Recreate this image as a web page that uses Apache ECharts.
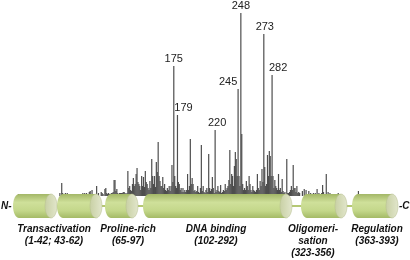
<!DOCTYPE html>
<html>
<head>
<meta charset="utf-8">
<script src="https://cdn.jsdelivr.net/npm/echarts@6/dist/echarts.min.js"></script>
<style>
  html, body { margin: 0; padding: 0; background: #fff; }
  #main { width: 410px; height: 260px; }
</style>
</head>
<body>
<div id="main"></div>
<script>
// codon positions that carry mutations, and the bar height
var residues = [
  6, 36, 51, 53, 54, 55, 57, 59, 61, 63, 65, 67, 72, 76, 78, 80, 82, 83, 84, 86, 88, 91, 93, 96, 97, 98, 100, 101,
  102, 103, 104, 105, 106, 107, 108, 109, 110, 111, 112, 113, 114, 115, 116, 117, 118, 119, 120, 121, 122, 123, 124,
  125, 126, 127, 128, 129, 130, 131, 132, 133, 134, 135, 136, 137, 138, 139, 140, 141, 142, 143, 144, 145, 146, 147,
  148, 149, 150, 151, 152, 153, 154, 155, 156, 157, 158, 159, 160, 161, 162, 163, 164, 165, 166, 167, 168, 169, 170,
  171, 172, 173, 174, 175, 176, 177, 178, 179, 180, 181, 182, 183, 184, 185, 186, 187, 188, 189, 190, 191, 192, 193,
  194, 195, 196, 197, 198, 199, 200, 201, 202, 203, 204, 205, 206, 207, 208, 209, 210, 211, 212, 213, 214, 215, 216,
  217, 218, 219, 220, 221, 222, 223, 224, 225, 226, 227, 228, 229, 230, 231, 232, 233, 234, 235, 236, 237, 238, 239,
  240, 241, 242, 243, 244, 245, 246, 247, 248, 249, 250, 251, 252, 253, 254, 255, 256, 257, 258, 259, 260, 261, 262,
  263, 264, 265, 266, 267, 268, 269, 270, 271, 272, 273, 274, 275, 276, 277, 278, 279, 280, 281, 282, 283, 284, 285,
  286, 287, 288, 289, 290, 291, 292, 293, 294, 295, 296, 297, 298, 299, 300,
  301, 302, 303, 304, 305, 306, 307, 308, 309, 310, 311, 312, 315, 317, 319, 322, 324, 327, 329, 331, 333, 336, 337,
  338, 341, 343, 345, 354, 376
];
var counts = [
  2, 2, 3, 13, 3, 2, 3, 3, 2, 2, 2, 2, 2, 3, 3, 3, 2, 4, 5, 6, 2, 10, 3, 4, 3, 2, 7, 8,
  3, 2, 3, 2, 2, 3, 3, 4, 16, 16, 5, 7, 3, 2, 3, 3, 3, 3, 4, 4, 3, 2, 3,
  25, 8, 10, 6, 5, 12, 18, 10, 12, 22, 28, 14, 12, 10, 6, 20, 10, 19, 9, 25, 14, 12, 8,
  6, 15, 8, 37, 20, 12, 20, 9, 34, 24, 54, 20, 15, 10, 10, 19, 8, 12, 6, 5, 8, 6, 10,
  5, 10, 31, 14, 130, 20, 10, 8, 81, 14, 12, 6, 8, 4, 8, 4, 6, 4, 6, 22, 6, 10, 57,
  12, 18, 12, 5, 6, 4, 5, 10, 4, 3, 8, 51, 5, 10, 4, 3, 6, 8, 4, 42, 8, 5, 7,
  19, 8, 3, 66, 4, 6, 10, 5, 4, 11, 3, 4, 6, 5, 12, 6, 8, 10, 16, 46, 12, 22, 20,
  10, 30, 44, 37, 20, 107, 20, 10, 183, 62, 12, 6, 8, 6, 15, 10, 6, 20, 12, 6, 4, 10, 6,
  5, 4, 6, 22, 8, 6, 15, 10, 27, 14, 162, 29, 10, 12, 41, 20, 45, 40, 20, 121, 20, 8, 16,
  10, 8, 6, 22, 6, 8, 4, 17, 5, 3, 4, 2, 37, 3, 3,
  4, 6, 10, 6, 31, 8, 8, 4, 10, 3, 4, 3, 5, 7, 6, 5, 3, 3, 3, 7, 3, 3, 11,
  4, 22, 4, 3, 3, 5
];
var hotspots = [175, 179, 220, 245, 248, 273, 282];

// protein domains drawn under the histogram
var domainNames = ['Transactivation', 'Proline-rich', 'DNA binding', 'Oligomeri-\nsation', 'Regulation'];
var domainRanges = ['(1-42; 43-62)', '(65-97)', '(102-292)', '(323-356)', '(363-393)'];

// label offsets for the hotspot numbers (px)
var labelShift = { 175: [0, 0], 179: [6, 0], 220: [2, 0], 245: [-10, 0], 248: [0, 0], 273: [1, 0], 282: [6, 0] };

var barData = [];
for (var i = 0; i < residues.length; i++) {
  var r = residues[i];
  if (hotspots.indexOf(r) >= 0) {
    barData.push({
      value: [r, counts[i]],
      label: { show: true, position: 'top', distance: 2, formatter: String(r), offset: labelShift[r],
               fontSize: 11, color: '#222', fontFamily: 'Liberation Sans, Arial, sans-serif' }
    });
  } else {
    barData.push([r, counts[i]]);
  }
}

// cylinder layout (schematic, not to scale)
var cylTop = 194, cylH = 24, capRx = 6;
var cylinders = [[13, 57], [57, 102], [105, 138], [143, 292], [301, 347], [352, 398]];
var links = [[100, 107], [136, 145], [290, 303], [345, 354]];
var textX = [54, 128, 216, 313, 377];

var bodyFill = new echarts.graphic.LinearGradient(0, 0, 0, 1, [
  { offset: 0, color: '#a3b767' },
  { offset: 0.35, color: '#cfe09a' },
  { offset: 0.7, color: '#c3d78a' },
  { offset: 1, color: '#a4ba66' }
]);
var capFill = new echarts.graphic.LinearGradient(0, 0, 1, 0, [
  { offset: 0, color: '#c8d0a4' },
  { offset: 1, color: '#e2e6cc' }
]);

var graphics = [];
links.forEach(function (l) {
  graphics.push({ type: 'line', z: 10, shape: { x1: l[0], y1: cylTop + cylH / 2, x2: l[1], y2: cylTop + cylH / 2 },
                  style: { stroke: '#b5c874', lineWidth: 2 } });
});
cylinders.forEach(function (c) {
  var cy = cylTop + cylH / 2;
  graphics.push({ type: 'ellipse', z: 11, shape: { cx: c[0] + capRx, cy: cy, rx: capRx, ry: cylH / 2 }, style: { fill: bodyFill } });
  graphics.push({ type: 'rect', z: 11, shape: { x: c[0] + capRx, y: cylTop, width: c[1] - c[0] - 2 * capRx, height: cylH }, style: { fill: bodyFill } });
  graphics.push({ type: 'ellipse', z: 12, shape: { cx: c[1] - capRx, cy: cy, rx: capRx, ry: cylH / 2 },
                  style: { fill: capFill, stroke: '#b4bd8f', lineWidth: 0.5 } });
});
var boldItalic = { fontSize: 10, fontWeight: 'bold', fontStyle: 'italic', fill: '#111',
                   fontFamily: 'Liberation Sans, Arial, sans-serif', align: 'center', verticalAlign: 'top', lineHeight: 12 };
domainNames.forEach(function (n, k) {
  graphics.push({ type: 'text', z: 12, x: textX[k], y: 223,
                  style: Object.assign({}, boldItalic, { text: n + '\n' + domainRanges[k] }) });
});
graphics.push({ type: 'text', z: 12, x: 1, y: 200, style: Object.assign({}, boldItalic, { text: 'N-', align: 'left' }) });
graphics.push({ type: 'text', z: 12, x: 399, y: 200, style: Object.assign({}, boldItalic, { text: '-C', align: 'left' }) });

var chart = echarts.init(document.getElementById('main'), null, { renderer: 'canvas' });
chart.setOption({
  animation: false,
  grid: { left: 13.5, right: 35.5, top: 6, bottom: 64 },
  xAxis: {
    type: 'value', min: 0.5, max: 393.5,
    axisLine: { show: false }, axisTick: { show: false }, axisLabel: { show: false }, splitLine: { show: false }
  },
  yAxis: {
    type: 'value', min: 0, max: 190,
    axisLine: { show: false }, axisTick: { show: false }, axisLabel: { show: false }, splitLine: { show: false }
  },
  series: [{
    type: 'bar',
    data: barData,
    barWidth: 1.2,
    itemStyle: { color: '#4e4e4e' }
  }],
  graphic: graphics
});
</script>
</body>
</html>
